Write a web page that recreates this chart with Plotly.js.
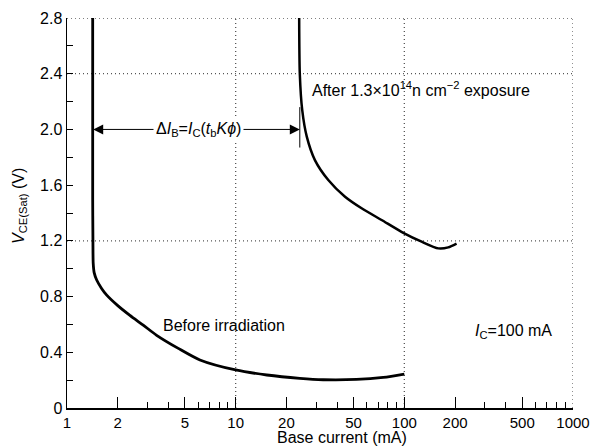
<!DOCTYPE html>
<html>
<head>
<meta charset="utf-8">
<script src="https://cdn.plot.ly/plotly-3.0.1.min.js"></script>
<style>html,body{margin:0;padding:0;background:#fff;}#chart{width:591px;height:447px;}</style>
</head>
<body>
<div id="chart"></div>
<script>
// Data
var beforeX = [1.42, 1.42, 1.425, 1.43, 1.45, 1.50, 1.60, 1.72, 2.0, 2.36, 2.83, 3.40, 4.57, 6.14, 10, 15.3, 24, 33, 52, 75, 100];
var beforeY = [2.8, 1.5, 1.2, 1.04, 0.97, 0.919, 0.86, 0.81, 0.735, 0.665, 0.595, 0.522, 0.428, 0.345, 0.273, 0.237, 0.213, 0.203, 0.205, 0.22, 0.244];
var afterX = [23.8, 24.0, 24.8, 26.4, 29.5, 35.4, 44.5, 55.8, 73.3, 98.6, 126.6, 159, 182, 204];
var afterY = [2.8, 2.40, 2.14, 1.948, 1.78, 1.637, 1.517, 1.434, 1.35, 1.258, 1.194, 1.146, 1.153, 1.18];

var xTickVals = [1, 2, 5, 10, 20, 50, 100, 200, 500, 1000];
var xTickText = ['1', '2', '5', '10', '20', '50', '100', '200', '500', '1000'];
var xMinorVals = [3, 4, 6, 7, 8, 9, 30, 40, 60, 70, 80, 90, 300, 400, 600, 700, 800, 900];
var yTickVals = [0, 0.4, 0.8, 1.2, 1.6, 2.0, 2.4, 2.8];
var yTickText = ['0', '0.4', '0.8', '1.2', '1.6', '2.0', '2.4', '2.8'];
var yMinorVals = [0.2, 0.6, 1.0, 1.4, 1.8, 2.2, 2.6];
var xGridVals = [10, 100, 1000];
var yGridVals = [1.2, 2.4, 2.8];

// Annotation anchors (data units)
var deltaLeftX = 1.43, deltaRightX = 24, deltaY = 2.0, deltaTextX = 5.98;
var tickMarkY0 = 1.87, tickMarkY1 = 2.16;
var afterLabelX = 27.6, afterLabelY = 2.29;
var beforeLabelX = 3.61, beforeLabelY = 0.589;
var icLabelX = 254, icLabelY = 0.548;

var FONT = 'Liberation Sans, Arial, Helvetica, sans-serif';
var L10 = Math.log10;

var traces = [
  {x: beforeX, y: beforeY, mode: 'lines', type: 'scatter', line: {color: '#000', width: 2.8, shape: 'spline', smoothing: 0.7}, hoverinfo: 'skip'},
  {x: afterX, y: afterY, mode: 'lines', type: 'scatter', line: {color: '#000', width: 2.5, shape: 'spline', smoothing: 0.7}, hoverinfo: 'skip'}
];

var shapes = [];
xGridVals.forEach(function (v) {
  shapes.push({type: 'line', xref: 'x', yref: 'paper', x0: v, x1: v, y0: 0, y1: 1, layer: 'below',
    line: {color: '#555', width: 1.3, dash: '1px,3px'}});
});
yGridVals.forEach(function (v) {
  shapes.push({type: 'line', xref: 'paper', yref: 'y', x0: 0, x1: 1, y0: v, y1: v, layer: 'below',
    line: {color: '#555', width: 1.3, dash: '1px,3px'}});
});
shapes.push({type: 'line', xref: 'x', yref: 'y', x0: deltaRightX, x1: deltaRightX, y0: tickMarkY0, y1: tickMarkY1,
  line: {color: '#000', width: 1}});

var annotations = [
  {x: L10(deltaLeftX), y: deltaY, ax: L10(deltaTextX), ay: deltaY, axref: 'x', ayref: 'y', xref: 'x', yref: 'y',
    text: '', showarrow: true, arrowhead: 2, arrowsize: 2, arrowwidth: 1, arrowcolor: '#000'},
  {x: L10(deltaRightX), y: deltaY, ax: L10(deltaTextX), ay: deltaY, axref: 'x', ayref: 'y', xref: 'x', yref: 'y',
    text: '', showarrow: true, arrowhead: 2, arrowsize: 2, arrowwidth: 1, arrowcolor: '#000'},
  {x: L10(deltaTextX), y: deltaY, xref: 'x', yref: 'y', showarrow: false, bgcolor: '#fff', borderpad: 2,
    text: 'Δ<i>I</i><sub>B</sub>=<i>I</i><sub>C</sub>(<i>t</i><sub>b</sub><i>Kϕ</i>)',
    font: {family: FONT, size: 16, color: '#000'}},
  {x: L10(afterLabelX), y: afterLabelY, xref: 'x', yref: 'y', xanchor: 'left', yanchor: 'middle', showarrow: false,
    text: 'After 1.3×10<sup>14</sup>n cm<sup>−2</sup> exposure', font: {family: FONT, size: 16, color: '#000'}},
  {x: L10(beforeLabelX), y: beforeLabelY, xref: 'x', yref: 'y', xanchor: 'left', yanchor: 'middle', showarrow: false,
    text: 'Before irradiation', font: {family: FONT, size: 16, color: '#000'}},
  {x: L10(icLabelX), y: icLabelY, xref: 'x', yref: 'y', xanchor: 'left', yanchor: 'middle', showarrow: false,
    text: '<i>I</i><sub>C</sub>=100 mA', font: {family: FONT, size: 16, color: '#000'}},
  {x: 0.5435, y: -0.0744, xref: 'paper', yref: 'paper', xanchor: 'center', yanchor: 'middle', showarrow: false,
    text: 'Base current (mA)', font: {family: FONT, size: 16, color: '#000'}},
  {x: -0.0929, y: 0.518, xref: 'paper', yref: 'paper', xanchor: 'center', yanchor: 'middle', showarrow: false,
    textangle: -90, text: '<i>V</i><sub>CE(Sat)</sub> (V)', font: {family: FONT, size: 16, color: '#000'}}
];

var layout = {
  width: 591, height: 447,
  margin: {l: 67, r: 18, t: 18, b: 39, pad: 0},
  paper_bgcolor: '#fff', plot_bgcolor: '#fff',
  showlegend: false,
  font: {family: FONT, size: 15, color: '#000'},
  xaxis: {
    type: 'log', range: [0, 3], showgrid: false, zeroline: false,
    showline: true, linecolor: '#000', linewidth: 1.5,
    tickmode: 'array', tickvals: xTickVals, ticktext: xTickText,
    ticks: 'inside', ticklen: 11, tickwidth: 1, tickcolor: '#000',
    tickfont: {family: FONT, size: 15, color: '#000'},
    minor: {tickmode: 'array', tickvals: xMinorVals, ticks: 'inside', ticklen: 6, tickwidth: 1, tickcolor: '#000', showgrid: false}
  },
  yaxis: {
    range: [0, 2.8], showgrid: false, zeroline: false,
    showline: true, linecolor: '#000', linewidth: 1.5,
    tickmode: 'array', tickvals: yTickVals, ticktext: yTickText,
    ticks: 'inside', ticklen: 6, tickwidth: 1, tickcolor: '#000',
    tickfont: {family: FONT, size: 16, color: '#000'},
    minor: {tickmode: 'array', tickvals: yMinorVals, ticks: 'inside', ticklen: 6, tickwidth: 1, tickcolor: '#000', showgrid: false}
  },
  shapes: shapes,
  annotations: annotations
};

Plotly.newPlot('chart', traces, layout, {staticPlot: true, displayModeBar: false});
</script>
</body>
</html>
